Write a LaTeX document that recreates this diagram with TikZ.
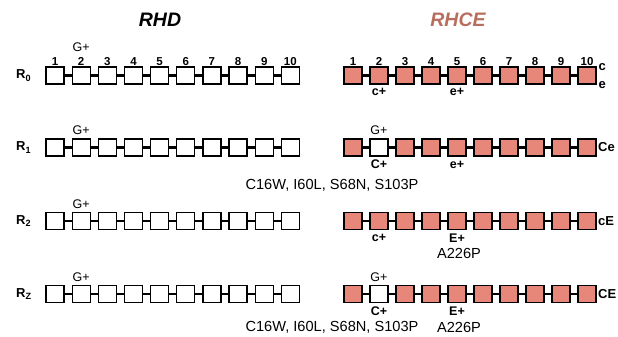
\documentclass[tikz,border=0pt]{standalone}
\usepackage{fontspec}
\setmainfont{Liberation Sans}
\definecolor{salmon}{HTML}{E6877A}
\definecolor{titlebrown}{HTML}{B86E5F}
\begin{document}
\begin{tikzpicture}[x=1pt,y=-1pt,
  unit/.style={draw=black,line width=1.2pt,minimum width=18pt,minimum height=17pt,inner sep=0pt},
  wbox/.style={unit,fill=white},
  rbox/.style={unit,fill=salmon},
  link/.style={line width=2.4pt},
  num/.style={font=\fontsize{11.5}{12}\selectfont\bfseries,inner sep=0pt},
  gplus/.style={font=\fontsize{12.5}{14}\selectfont,inner sep=0pt},
  blab/.style={font=\fontsize{12.5}{14}\selectfont\bfseries,inner sep=0pt},
  endlab/.style={font=\fontsize{13}{14}\selectfont\bfseries,inner sep=0pt,anchor=west},
  rowlab/.style={font=\fontsize{13}{14}\selectfont\bfseries,inner sep=0pt,anchor=west},
  mut/.style={font=\fontsize{14.6}{16}\selectfont,inner sep=0pt},
  ttl/.style={font=\fontsize{19.5}{22}\selectfont\bfseries\itshape,inner sep=0pt}]
\useasboundingbox (0,0) rectangle (618,337);

% column titles
\node[ttl] (tRHD) at (160,20) {RHD};
\node[ttl,text=titlebrown] (tRHCE) at (458,20) {RHCE};

% four rows of ten repeat units, RHD on the left and RHCE on the right
\foreach \r/\y/\lab in {0/75.5/0, 1/147.5/1, 2/221/2, z/294/Z} {
  \node[rowlab] (lab\r) at (16,\y) {R\textsubscript{\lab}};
  \foreach \i in {1,...,10} {
    \node[wbox] (L\r-\i) at ({55+26.15*(\i-1)},\y) {};
    \node[rbox] (R\r-\i) at ({353+26*(\i-1)},\y) {};
  }
  \foreach \i [evaluate=\i as \j using int(\i+1)] in {1,...,9} {
    \draw[link] (L\r-\i) -- (L\r-\j);
    \draw[link] (R\r-\i) -- (R\r-\j);
  }
}

% unit 2 of RHCE without the RHCE colour in rows 1 and Z
\node[wbox] at (R1-2) {};
\node[wbox] at (Rz-2) {};

% unit numbers
\foreach \i in {1,...,10} {
  \node[num] (nL\i) at ([yshift=14pt]L0-\i.center) {\i};
  \node[num] (nR\i) at ([yshift=14pt]R0-\i.center) {\i};
}

% G+ marks on unit 2
\node[gplus] (g0) at ([yshift=28.5pt]L0-2.center) {G+};
\node[gplus] (g1) at ([yshift=17pt]L1-2.center) {G+};
\node[gplus] (g2) at ([yshift=17pt]L2-2.center) {G+};
\node[gplus] (gz) at ([yshift=17pt]Lz-2.center) {G+};
\node[gplus] (gr1) at ([yshift=17pt]R1-2.center) {G+};
\node[gplus] (grz) at ([yshift=17pt]Rz-2.center) {G+};

% antigen marks under RHCE units 2 and 5
\node[blab] (c0) at ([yshift=-16.5pt]R0-2.center) {c+};
\node[blab] (e0) at ([yshift=-16.5pt]R0-5.center) {e+};
\node[blab] (c1) at ([yshift=-17pt]R1-2.center) {C+};
\node[blab] (e1) at ([yshift=-17pt]R1-5.center) {e+};
\node[blab] (c2) at ([yshift=-17pt]R2-2.center) {c+};
\node[blab] (e2) at ([yshift=-17pt]R2-5.center) {E+};
\node[blab] (cz) at ([yshift=-17pt]Rz-2.center) {C+};
\node[blab] (ez) at ([yshift=-17pt]Rz-5.center) {E+};

% haplotype names
\node[endlab] (h0c) at (598.5,67.5) {c};
\node[endlab] (h0e) at (598.5,85.5) {e};
\node[endlab] (h1) at (598,147.5) {Ce};
\node[endlab] (h2) at (598,221) {cE};
\node[endlab] (hz) at (598,294) {CE};

% amino acid substitutions
\node[mut] (m1) at (332,185.5) {C16W, I60L, S68N, S103P};
\node[mut] (m2) at (459,253) {A226P};
\node[mut] (mz1) at (332,327) {C16W, I60L, S68N, S103P};
\node[mut] (mz2) at (459,327) {A226P};
\end{tikzpicture}
\end{document}
